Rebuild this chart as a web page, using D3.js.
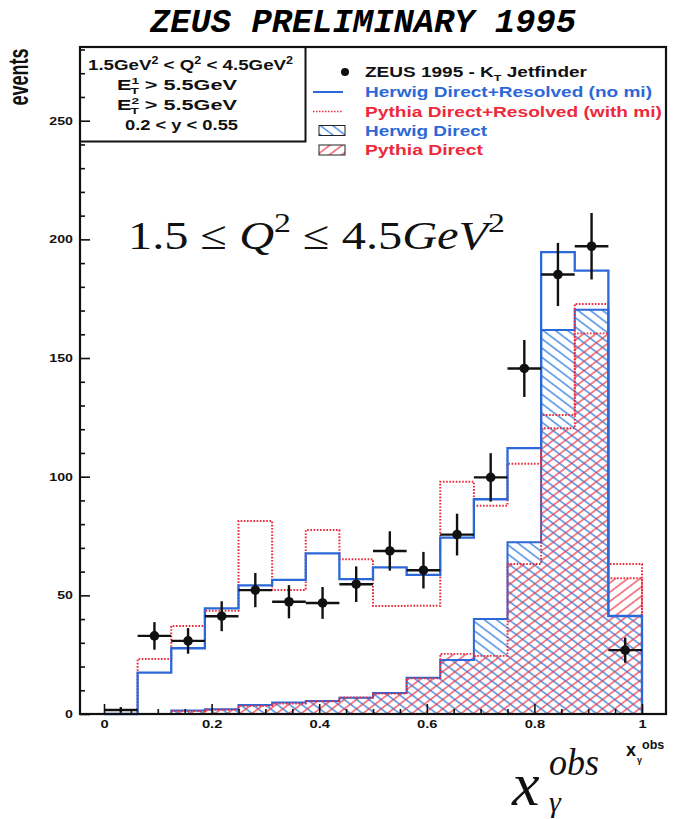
<!DOCTYPE html>
<html><head><meta charset="utf-8">
<script src="https://cdn.jsdelivr.net/npm/d3@7"></script>
<style>body{margin:0;background:#fff}</style>
</head><body>
<svg id="c" width="692" height="819" xmlns="http://www.w3.org/2000/svg"></svg>
<script>
// ---------------- data ----------------
const binEdges = [0,0.0625,0.125,0.1875,0.25,0.3125,0.375,0.4375,0.5,0.5625,0.625,0.6875,0.75,0.8125,0.875,0.9375,1.0];
const herwigDirRes = [0,17.4,27.7,44.5,54.2,56.5,67.7,56.8,61.8,58.6,74.3,90.5,112,194.6,186.8,41.3];
const pythiaDirRes = [0,23.2,37.1,43.5,81.3,52.3,77.5,65.2,45.5,45.6,97.9,87.8,105.4,126,172.8,63.2];
const herwigDirect = [0,0,1.5,2.0,3.8,4.8,5.5,6.8,8.8,15.3,22.8,40,72.4,161.8,170.3,41.3];
const pythiaDirect = [0,0,1.2,1.8,3.4,4.4,5.3,7.0,8.6,15.0,25.3,24.5,63.2,120.4,160.4,57.2];
const zeusData = [1.7,32.9,30.8,41.2,52.2,47.3,46.8,54.7,68.7,60.6,75.6,99.7,145.6,185.2,197.1,26.9];
const zeusErr = [1.2,5.8,5.4,6.3,7.2,7.0,6.7,7.5,8.3,7.7,8.8,10.2,12,13.3,14,5.3];
const xMajorTicks = [0,0.2,0.4,0.6,0.8,1];
const xMinorTicks = [0.05,0.1,0.15,0.25,0.3,0.35,0.45,0.5,0.55,0.65,0.7,0.75,0.85,0.9,0.95];
const yMajorTicks = [0,50,100,150,200,250];
const yMinorTicks = [10,20,30,40,60,70,80,90,110,120,130,140,160,170,180,190,210,220,230,240,260,270,280];

// ---------------- layout ----------------
const BLUE = '#2c68d8', RED = '#ec2a3c', HBLUE = '#3a86e4', HRED = '#ee3444';
const fr = {l:80, r:666, t:47, b:714};
const svg = d3.select('#c');
const x = d3.scaleLinear().domain([0,1]).range([104,642]);
const y = d3.scaleLinear().domain([0,250]).range([714,120.7]);

const defs = svg.append('defs');
function hatch(id, color, angle, sw){
  const p = defs.append('pattern').attr('id',id).attr('patternUnits','userSpaceOnUse')
    .attr('width',12).attr('height',7.4).attr('patternTransform',`rotate(${angle})`);
  p.append('line').attr('x1',0).attr('x2',12).attr('y1',3.7).attr('y2',3.7)
    .attr('stroke',color).attr('stroke-width',sw);
}
hatch('hb', HBLUE, 37, 1.4);
hatch('hr', HRED, -37, 1.2);

// title
svg.append('text').attr('x',150).attr('y',32)
  .attr('font-family','Liberation Mono').attr('font-weight','bold').attr('font-style','italic')
  .attr('font-size',33).attr('textLength',426).attr('lengthAdjust','spacingAndGlyphs')
  .text('ZEUS PRELIMINARY 1995');

// histograms
function stepPts(vals){
  const p = vals.map((v,i)=>({x:binEdges[i], v}));
  p.push({x:binEdges[vals.length], v:vals[vals.length-1]});
  return p;
}
const area = d3.area().curve(d3.curveStepAfter).x(d=>x(d.x)).y0(y(0)).y1(d=>y(d.v));
const line = d3.line().curve(d3.curveStepAfter).x(d=>x(d.x)).y(d=>y(d.v));
const outline = vals => line([...stepPts(vals), {x:1, v:0}]);

const g = svg.append('g');
g.append('path').attr('d', area(stepPts(herwigDirect))).attr('fill','url(#hb)');
g.append('path').attr('d', area(stepPts(pythiaDirect))).attr('fill','url(#hr)');
g.append('path').attr('d', outline(herwigDirect)).attr('fill','none').attr('stroke',BLUE).attr('stroke-width',2);
g.append('path').attr('d', outline(pythiaDirect)).attr('fill','none').attr('stroke',RED).attr('stroke-width',1.8).attr('stroke-dasharray','1.6,1.6');
g.append('path').attr('d', outline(pythiaDirRes)).attr('fill','none').attr('stroke',RED).attr('stroke-width',2).attr('stroke-dasharray','1.6,1.6');
g.append('path').attr('d', outline(herwigDirRes)).attr('fill','none').attr('stroke',BLUE).attr('stroke-width',2.3);

// frame & boxes
svg.append('rect').attr('x',fr.l).attr('y',fr.t).attr('width',fr.r-fr.l).attr('height',fr.b-fr.t)
  .attr('fill','none').attr('stroke','#111').attr('stroke-width',2.2);
svg.append('rect').attr('x',fr.l).attr('y',fr.t).attr('width',225.5).attr('height',94.5)
  .attr('fill','none').attr('stroke','#111').attr('stroke-width',2);

// axes
const tickFont = sel => sel.selectAll('text').attr('font-family','Liberation Sans').attr('font-weight','bold')
  .attr('font-size',10.5).attr('fill','#111');
const xAx = svg.append('g').attr('transform',`translate(0,${fr.b})`)
  .call(d3.axisBottom(x).tickValues(xMajorTicks).tickSize(-10).tickPadding(6).tickFormat(d3.format('~g')));
const xAx2 = svg.append('g').attr('transform',`translate(0,${fr.b})`)
  .call(d3.axisBottom(x).tickValues(xMinorTicks).tickSize(-5).tickFormat(''));
const yAx = svg.append('g').attr('transform',`translate(${fr.l},0)`)
  .call(d3.axisLeft(y).tickValues(yMajorTicks).tickSize(-10).tickPadding(5.2));
const yAx2 = svg.append('g').attr('transform',`translate(${fr.l},0)`)
  .call(d3.axisLeft(y).tickValues(yMinorTicks).tickSize(-5).tickFormat(''));
[xAx,xAx2,yAx,yAx2].forEach(a=>{a.select('.domain').remove(); a.selectAll('line').attr('stroke','#111').attr('stroke-width',1.6);});
tickFont(xAx); tickFont(yAx);
xAx.selectAll('text').attr('transform','scale(1.4,1)').attr('y',7);
yAx.selectAll('text').attr('transform','scale(1.35,1)');

// data points
const pts = svg.append('g');
zeusData.forEach((v,i)=>{
  const x0 = x(binEdges[i]), x1 = x(binEdges[i+1]), cx = (x0+x1)/2;
  pts.append('line').attr('x1',x0).attr('x2',x1).attr('y1',y(v)).attr('y2',y(v)).attr('stroke','#111').attr('stroke-width',2.4);
  pts.append('line').attr('x1',cx).attr('x2',cx).attr('y1',y(v-zeusErr[i])).attr('y2',y(v+zeusErr[i])).attr('stroke','#111').attr('stroke-width',2.4);
  if (v > 5) pts.append('circle').attr('cx',cx).attr('cy',y(v)).attr('r',4.8).attr('fill','#111');
});

// axis labels
svg.append('text').attr('transform','translate(28,77) rotate(-90)').attr('text-anchor','middle')
  .attr('font-family','Liberation Sans').attr('font-weight','bold').attr('font-size',27).attr('fill','#111')
  .attr('textLength',57).attr('lengthAdjust','spacingAndGlyphs').text('events');
const xl = svg.append('text').attr('font-family','Liberation Sans').attr('font-weight','bold').attr('fill','#111');
xl.append('tspan').attr('x',626).attr('y',756).attr('font-size',18).text('x');
xl.append('tspan').attr('x',642).attr('y',749).attr('font-size',12.5).text('obs');
xl.append('tspan').attr('x',637).attr('y',763).attr('font-size',9).text('γ');

// big LaTeX-like labels
const q = svg.append('text').attr('x',128).attr('y',249).attr('font-family','Liberation Serif')
  .attr('font-size',40).attr('fill','#111').attr('textLength',377).attr('lengthAdjust','spacingAndGlyphs');
q.append('tspan').text('1.5\u00a0\u2264\u00a0');
q.append('tspan').attr('font-style','italic').text('Q');
q.append('tspan').attr('font-size',28).attr('dy',-17).text('2');
q.append('tspan').attr('dy',17).text('\u00a0\u2264\u00a04.5');
q.append('tspan').attr('font-style','italic').text('GeV');
q.append('tspan').attr('font-size',28).attr('dy',-17).text('2');

svg.append('text').attr('x',512).attr('y',805).attr('font-family','Liberation Serif').attr('font-style','italic')
  .attr('fill','#111').attr('font-size',62).text('x');
svg.append('text').attr('x',549).attr('y',775).attr('font-family','Liberation Serif').attr('font-style','italic')
  .attr('fill','#111').attr('font-size',38).attr('textLength',50).attr('lengthAdjust','spacingAndGlyphs').text('obs');
svg.append('text').attr('x',549).attr('y',812).attr('font-family','Liberation Serif').attr('font-style','italic')
  .attr('fill','#111').attr('font-size',30).text('γ');

// cut box text
const boxFont = sel => sel.attr('font-family','Liberation Sans').attr('font-weight','bold').attr('font-size',15).attr('fill','#111').attr('lengthAdjust','spacingAndGlyphs');
let t = svg.append('text').attr('x',88).attr('y',70).attr('textLength',205).call(boxFont);
t.append('tspan').text('1.5GeV');
t.append('tspan').attr('font-size',10).attr('dy',-6).text('2');
t.append('tspan').attr('dy',6).text(' < Q');
t.append('tspan').attr('font-size',10).attr('dy',-6).text('2');
t.append('tspan').attr('dy',6).text(' < 4.5GeV');
t.append('tspan').attr('font-size',10).attr('dy',-6).text('2');
['1','2'].forEach((s,k)=>{
  const tt = svg.append('text').attr('x',117).attr('y',90+20*k).attr('textLength',120).call(boxFont);
  tt.append('tspan').text('E');
  tt.append('tspan').attr('font-size',9.5).attr('dy',-6).text(s);
  tt.append('tspan').attr('font-size',9.5).attr('dx',-6).attr('dy',10).text('T');
  tt.append('tspan').attr('dy',-4).text(' > 5.5GeV');
});
svg.append('text').attr('x',125).attr('y',129.5).attr('textLength',113).call(boxFont).text('0.2 < y < 0.55');

// legend
const legFont = sel => sel.attr('font-family','Liberation Sans').attr('font-weight','bold').attr('font-size',14.5).attr('lengthAdjust','spacingAndGlyphs');
const lx = 365, lb = [77,97,116.5,135.5,155];
svg.append('circle').attr('cx',345).attr('cy',lb[0]-5).attr('r',4).attr('fill','#111');
let lt = svg.append('text').attr('x',lx).attr('y',lb[0]).attr('textLength',222).attr('fill','#111').call(legFont);
lt.append('tspan').text('ZEUS 1995 - K');
lt.append('tspan').attr('font-size',9.5).attr('dy',4).text('T');
lt.append('tspan').attr('dy',-4).text(' Jetfinder');
svg.append('line').attr('x1',313).attr('x2',343).attr('y1',lb[1]-5).attr('y2',lb[1]-5).attr('stroke',BLUE).attr('stroke-width',2);
svg.append('text').attr('x',lx).attr('y',lb[1]).attr('textLength',287).attr('fill',BLUE).call(legFont).text('Herwig Direct+Resolved (no mi)');
svg.append('line').attr('x1',313).attr('x2',343).attr('y1',lb[2]-5).attr('y2',lb[2]-5).attr('stroke',RED).attr('stroke-width',1.6).attr('stroke-dasharray','1.5,1.5');
svg.append('text').attr('x',lx).attr('y',lb[2]).attr('textLength',297).attr('fill',RED).call(legFont).text('Pythia Direct+Resolved (with mi)');
svg.append('rect').attr('x',319).attr('y',lb[3]-10).attr('width',26).attr('height',10).attr('fill','url(#hb)').attr('stroke','#222').attr('stroke-width',1);
svg.append('text').attr('x',lx).attr('y',lb[3]).attr('textLength',122).attr('fill',BLUE).call(legFont).text('Herwig Direct');
svg.append('rect').attr('x',319).attr('y',lb[4]-10).attr('width',26).attr('height',10).attr('fill','url(#hr)').attr('stroke','#222').attr('stroke-width',1);
svg.append('text').attr('x',lx).attr('y',lb[4]).attr('textLength',118).attr('fill',RED).call(legFont).text('Pythia Direct');
</script>
</body></html>
